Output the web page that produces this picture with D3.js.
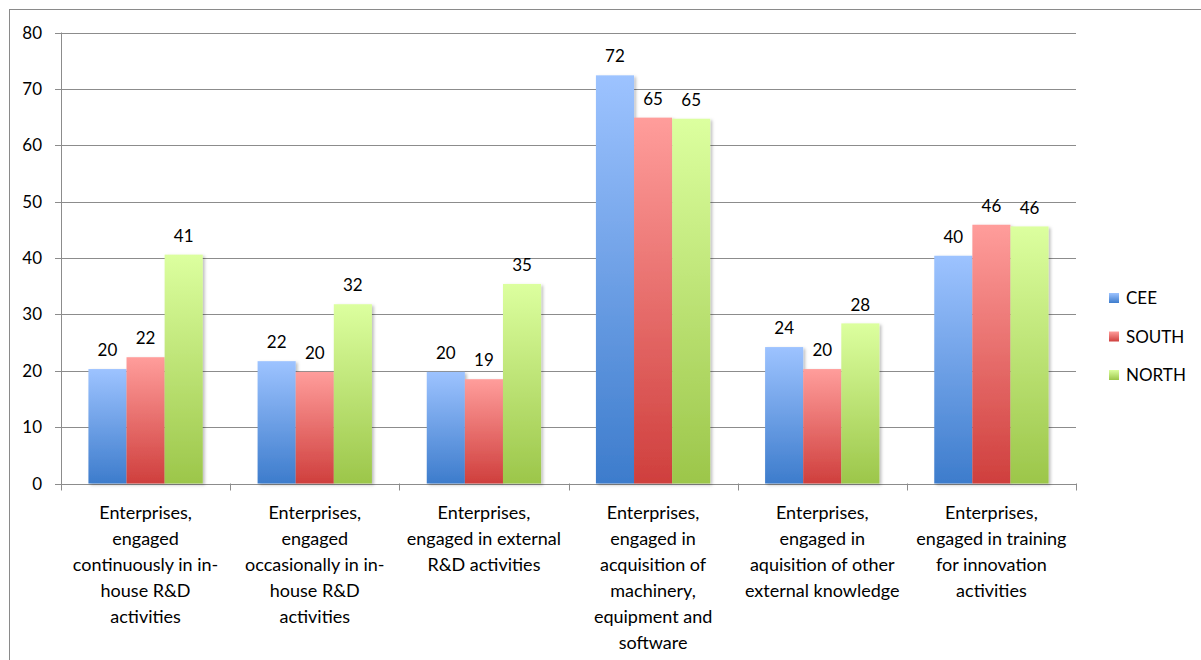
<!DOCTYPE html>
<html><head><meta charset="utf-8">
<script src="https://cdn.jsdelivr.net/npm/d3@7"></script>
<style>
html,body{margin:0;padding:0;background:#fff;}
text{font-family:Lato,"Open Sans",sans-serif;fill:#000;}
</style></head>
<body><svg id="c" width="1201" height="660"></svg>
<script>
const categories = [
  ["Enterprises,","engaged","continuously in in-","house R&D","activities"],
  ["Enterprises,","engaged","occasionally in in-","house R&D","activities"],
  ["Enterprises,","engaged in external","R&D activities"],
  ["Enterprises,","engaged in","acquisition of","machinery,","equipment and","software"],
  ["Enterprises,","engaged in","aquisition of other","external knowledge"],
  ["Enterprises,","engaged in training","for innovation","activities"]
];
const seriesNames = ["CEE","SOUTH","NORTH"];
const cee   = [20.3, 21.7, 19.8, 72.4, 24.2, 40.4];
const south = [22.4, 19.8, 18.5, 64.9, 20.3, 45.9];
const north = [40.6, 31.8, 35.4, 64.7, 28.4, 45.6];
const yTicks = [0,10,20,30,40,50,60,70,80];
const colors = {CEE:["#9dc3ff","#3d7ccc"], SOUTH:["#ff9d9b","#cf3f3d"], NORTH:["#dcff9f","#9cc64a"]};

(function(){
const series = [cee, south, north];
const svg = d3.select("#c");
const defs = svg.append("defs");
seriesNames.forEach(n=>{
  const g = defs.append("linearGradient").attr("id","g"+n).attr("x1",0).attr("y1",0).attr("x2",0).attr("y2",1);
  g.append("stop").attr("offset","0%").attr("stop-color",colors[n][0]);
  g.append("stop").attr("offset","100%").attr("stop-color",colors[n][1]);
});
const f = defs.append("filter").attr("id","sh").attr("x","-20%").attr("y","-20%").attr("width","150%").attr("height","150%");
f.append("feDropShadow").attr("dx",2).attr("dy",1.5).attr("stdDeviation",1.5).attr("flood-color","#000").attr("flood-opacity",0.25);

svg.append("rect").attr("x",9.5).attr("y",9.5).attr("width",1300).attr("height",800)
  .attr("fill","none").attr("stroke","#8a8a8a").attr("stroke-width",1);

const pl = 61, pr = 1076, pt = 32.5, pb = 483.5;
const x = d3.scaleBand().domain(d3.range(categories.length)).range([pl,pr]).paddingInner(0).paddingOuter(0);
const xs = d3.scaleBand().domain(seriesNames).range([0,x.bandwidth()]).paddingInner(0).paddingOuter(0.72);
const y = d3.scaleLinear().domain([0,80]).range([pb,pt]);

svg.append("g").selectAll("line").data(yTicks).join("line")
  .attr("x1",pl-6).attr("x2",pr).attr("y1",d=>Math.round(y(d))+0.5).attr("y2",d=>Math.round(y(d))+0.5)
  .attr("stroke","#8c8c8c").attr("stroke-width",1);
svg.append("line").attr("x1",pl+0.5).attr("x2",pl+0.5).attr("y1",pt).attr("y2",pb+5).attr("stroke","#8c8c8c");
svg.append("g").selectAll("text").data(yTicks).join("text")
  .attr("x",42).attr("y",d=>y(d)).attr("dy","0.36em").attr("text-anchor","end")
  .style("font-size","17px").text(d=>d);
const xt = d3.range(categories.length+1).map(i=> i<categories.length ? x(i) : pr);
svg.append("g").selectAll("line").data(xt).join("line")
  .attr("x1",d=>Math.round(d)+0.5).attr("x2",d=>Math.round(d)+0.5).attr("y1",pb).attr("y2",pb+7)
  .attr("stroke","#8c8c8c");

seriesNames.forEach((n,si)=>{
  const g = svg.append("g").attr("filter","url(#sh)");
  g.selectAll("rect").data(series[si]).join("rect")
    .attr("x",(d,i)=>x(i)+xs(n)).attr("width",xs.bandwidth())
    .attr("y",d=>y(d)).attr("height",d=>y(0)-y(d))
    .attr("fill","url(#g"+n+")");
});
seriesNames.forEach((n,si)=>{
  svg.append("g").selectAll("text").data(series[si]).join("text")
    .attr("x",(d,i)=>x(i)+xs(n)+xs.bandwidth()/2).attr("y",d=>y(d)-19).attr("dy","0.36em")
    .attr("text-anchor","middle").style("font-size","17px").text(d=>Math.round(d));
});

categories.forEach((lines,i)=>{
  const t = svg.append("text").attr("text-anchor","middle").style("font-size","18px");
  lines.forEach((l,j)=>{
    t.append("tspan").attr("x",x(i)+x.bandwidth()/2).attr("y",513+26*j).attr("dy","0.36em").text(l);
  });
});

const lg = svg.append("g");
seriesNames.forEach((n,i)=>{
  const yy = 298 + 38.5*i;
  lg.append("rect").attr("x",1109).attr("y",yy-5).attr("width",10).attr("height",10).attr("fill","url(#g"+n+")");
  lg.append("text").attr("x",1126).attr("y",yy).attr("dy","0.36em").style("font-size","17px").text(n);
});
})();
</script></body></html>
